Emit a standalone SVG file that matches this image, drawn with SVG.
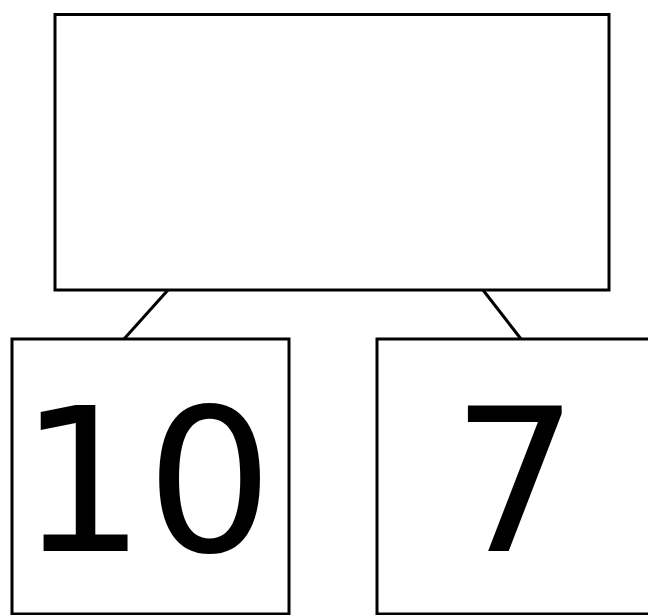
<svg xmlns="http://www.w3.org/2000/svg" width="648" height="615" viewBox="0 0 648 615">
<style>
.box{fill:#fff;stroke:#000;stroke-width:3}
.edge{stroke:#000;stroke-width:3;fill:none}
.lbl{font-family:"DejaVu Sans",sans-serif;font-size:200px;text-anchor:middle;fill:#000}
</style>
<rect width="648" height="615" fill="#fff"/>
<g id="connectors">
<line class="edge" x1="168" y1="290" x2="124" y2="339"/>
<line class="edge" x1="483" y1="290" x2="521" y2="339"/>
</g>
<g id="root"><rect class="box" x="55" y="14.5" width="554" height="275.5"/></g>
<g id="left"><rect class="box" x="12" y="339" width="277" height="275"/><text class="lbl" x="146" y="551">10</text></g>
<g id="right"><rect class="box" x="377" y="339" width="277" height="275"/><text class="lbl" x="515" y="551">7</text></g>
</svg>
